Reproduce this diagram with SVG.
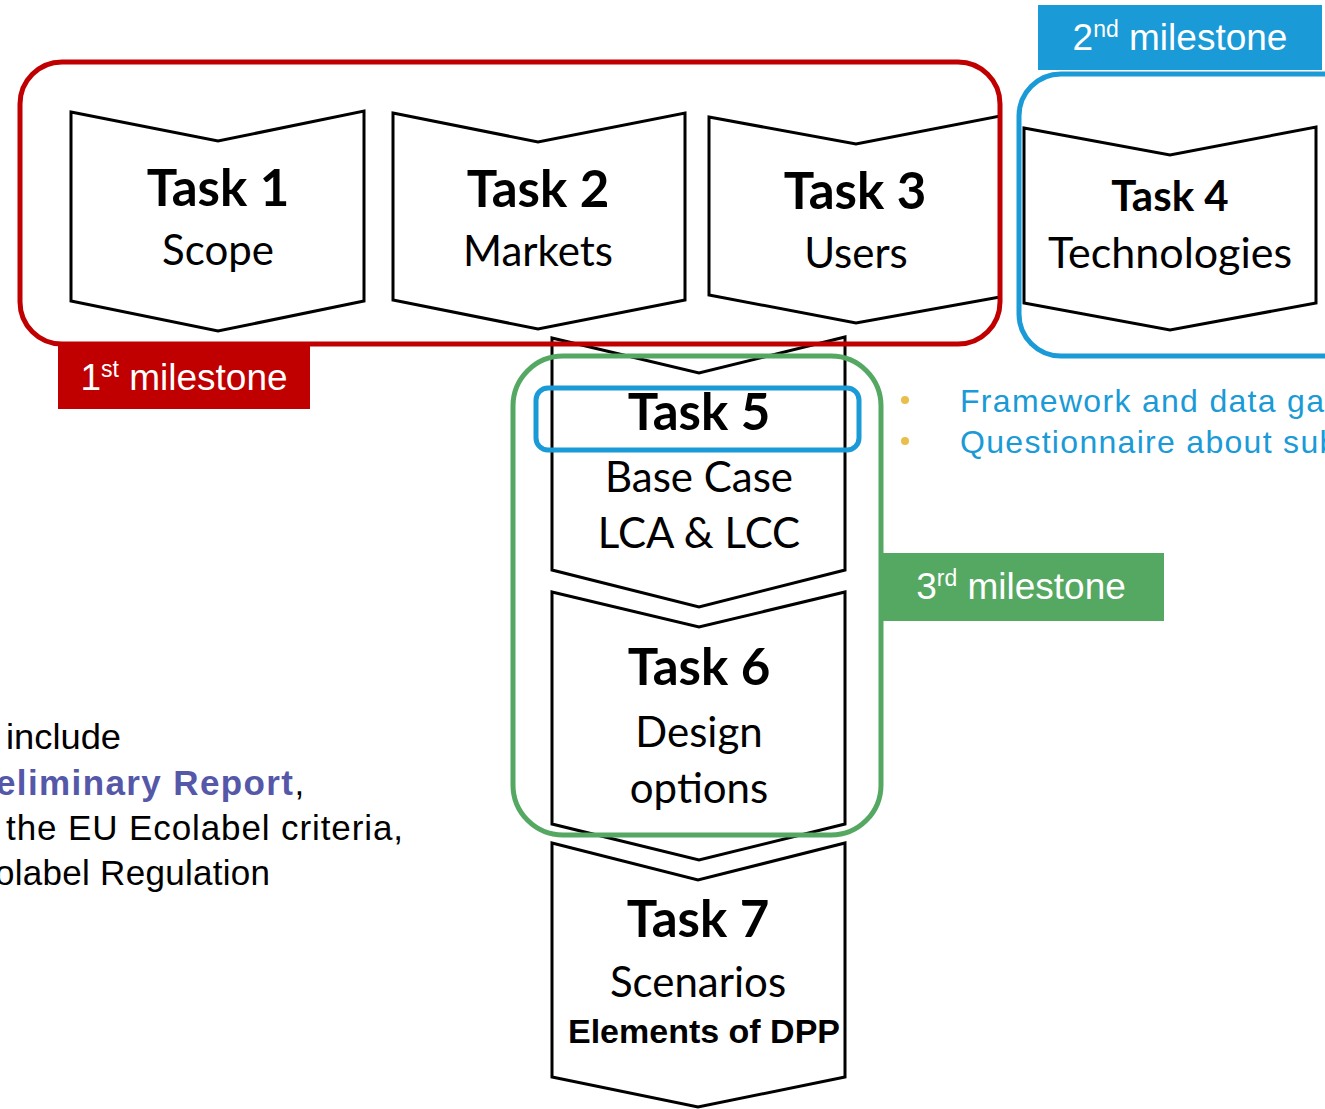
<svg xmlns="http://www.w3.org/2000/svg" width="1325" height="1109" viewBox="0 0 1325 1109">
<style>
.task{fill:#fff;stroke:#000;stroke-width:3;stroke-linejoin:miter}
.tt{font-family:Lato,"Open Sans",sans-serif;font-weight:bold;font-size:51px;fill:#000;text-anchor:middle}
.ts{font-family:Lato,"Open Sans",sans-serif;font-size:42px;fill:#000;text-anchor:middle}
.ms{font-family:"Liberation Sans",Arial,sans-serif;font-size:37px;fill:#fff;text-anchor:middle}
.sup{font-size:23px}
.bl{font-family:"Liberation Sans",Arial,sans-serif;font-size:32px;fill:#1A9AD6}
.lt{font-family:"Liberation Sans",Arial,sans-serif;font-size:35px;fill:#000}
</style>
<rect width="1325" height="1109" fill="#fff"/>
<g id="task1">
<path class="task" d="M71,112 L218,141 L364,111 L364,301 L218,331 L71,301 Z"/>
<text class="tt" x="218" y="206">Task 1</text>
<text class="ts" x="218" y="265">Scope</text>
</g>
<g id="task2">
<path class="task" d="M393,113 L538,142 L685,113 L685,300 L538,329 L393,300 Z"/>
<text class="tt" x="538" y="207">Task 2</text>
<text class="ts" x="538" y="266">Markets</text>
</g>
<g id="task3">
<path class="task" d="M709,117 L856,144 L1000,116 L1000,297 L856,323 L709,295 Z"/>
<text class="tt" x="855" y="209">Task 3</text>
<text class="ts" x="856" y="268">Users</text>
</g>
<g id="task4">
<path class="task" d="M1024,128 L1170,155 L1316,127 L1316,303 L1170,330 L1024,303 Z"/>
<text class="tt" x="1170" y="211" style="font-size:42px">Task 4</text>
<text class="ts" x="1170" y="268" style="font-size:43px">Technologies</text>
</g>
<g id="task5">
<path class="task" d="M552,338 L699,373 L845,337 L845,570 L699,607 L552,570 Z"/>
<text class="tt" x="699" y="430">Task 5</text>
<text class="ts" x="699" y="492">Base Case</text>
<text class="ts" x="699" y="548">LCA &amp; LCC</text>
</g>
<g id="task6">
<path class="task" d="M552,592 L699,627 L845,592 L845,824 L699,860 L552,824 Z"/>
<text class="tt" x="699" y="685">Task 6</text>
<text class="ts" x="699" y="747">Design</text>
<text class="ts" x="699" y="803">options</text>
</g>
<g id="task7">
<path class="task" d="M552,843 L698,880 L845,843 L845,1077 L698,1107 L552,1077 Z"/>
<text class="tt" x="698" y="937">Task 7</text>
<text class="ts" x="698" y="997">Scenarios</text>
<text x="704" y="1043" text-anchor="middle" style="font-family:'Liberation Sans',Arial,sans-serif;font-weight:bold;font-size:34px">Elements of DPP</text>
</g>
<g id="milestone1">
<rect x="20" y="62" width="980" height="282" rx="42" fill="none" stroke="#C00000" stroke-width="5"/>
<rect x="58" y="346" width="252" height="63" fill="#C00000"/>
<text class="ms" x="184" y="390">1<tspan class="sup" dy="-13">st</tspan><tspan dy="13"> milestone</tspan></text>
</g>
<g id="milestone2">
<rect x="1019" y="74" width="360" height="282" rx="42" fill="none" stroke="#1A9AD6" stroke-width="5"/>
<rect x="1038" y="5" width="284" height="65" fill="#1A9AD6"/>
<text class="ms" x="1180" y="50">2<tspan class="sup" dy="-13">nd</tspan><tspan dy="13"> milestone</tspan></text>
<rect x="536" y="388" width="323" height="62" rx="12" fill="none" stroke="#1A9AD6" stroke-width="5"/>
</g>
<g id="milestone3">
<rect x="513" y="356" width="368" height="479" rx="50" fill="none" stroke="#55A862" stroke-width="5"/>
<rect x="881" y="553" width="283" height="68" fill="#55A862"/>
<text class="ms" x="1021" y="599">3<tspan class="sup" dy="-13">rd</tspan><tspan dy="13"> milestone</tspan></text>
</g>
<g id="bullets">
<circle cx="905" cy="400" r="4" fill="#E9BE4B"/>
<circle cx="905" cy="441" r="4" fill="#E9BE4B"/>
<text class="bl" x="960" y="412" letter-spacing="1.3">Framework and data ga</text>
<text class="bl" x="960" y="453" letter-spacing="1.3">Questionnaire about sub</text>
</g>
<g id="notes">
<text class="lt" x="6" y="749" textLength="115" lengthAdjust="spacingAndGlyphs">include</text>
<text class="lt" x="-4" y="795"><tspan font-weight="bold" fill="#5558A8" textLength="297">eliminary Report</tspan>,</text>
<text class="lt" x="6" y="840" textLength="397">the EU Ecolabel criteria,</text>
<text class="lt" x="-5" y="885" textLength="275">olabel Regulation</text>
</g>
<g id="connectors"/>
</svg>
